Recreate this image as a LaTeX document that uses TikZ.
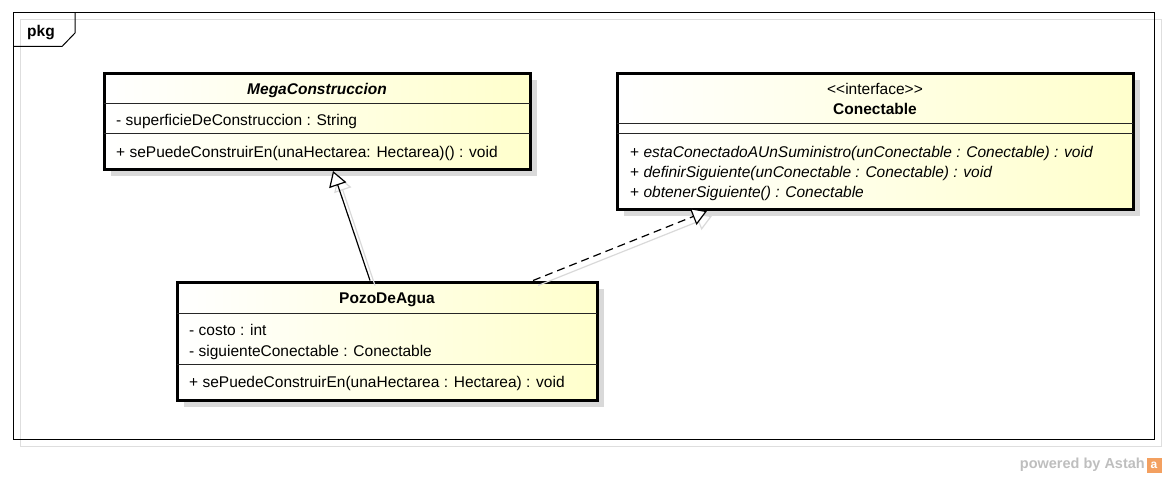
\documentclass[tikz,border=0pt]{standalone}
\usepackage{fontspec}
\setmainfont{Liberation Sans}
\usetikzlibrary{arrows.meta,shadows}
\definecolor{umlyellow}{RGB}{255,255,204}
\definecolor{shadegray}{RGB}{217,217,217}
\definecolor{framegray}{RGB}{222,222,222}
\definecolor{astahgray}{RGB}{190,190,190}
\definecolor{astahorange}{RGB}{243,160,96}

\begin{document}
\begin{tikzpicture}[x=1pt,y=-1pt,font=\fontsize{15.5}{20}\selectfont]
\tikzset{
classbox/.style={draw, line width=3pt, inner sep=0pt,
  left color=white, right color=umlyellow,
  drop shadow={shadow xshift=7pt, shadow yshift=-7pt, fill=shadegray, opacity=1}},
sep/.style={line width=1pt, black!85},
txt/.style={inner sep=0pt, anchor=west, text height=11pt, text depth=3pt},
ctxt/.style={inner sep=0pt, text height=11pt, text depth=3pt},
ttl/.style={ctxt, font=\fontsize{15.5}{20}\selectfont\bfseries},
gen/.style={line width=1.2pt, -{Triangle[length=15pt,width=18pt,fill=white]}},
real/.style={line width=1.2pt, dash pattern=on 8pt off 5pt,
  -{Triangle[length=15pt,width=18pt,fill=white]}},
shline/.style={line width=1.2pt, shadegray, -{Triangle[length=15pt,width=18pt,fill=white]}}
}
\useasboundingbox (0,0) rectangle (1166,478);

% package frame
\draw[framegray, line width=1pt] (20,20) rectangle (1161,446);
\draw[line width=1pt] (13,13) rectangle (1154,439);
\draw[line width=1pt] (75,13) -- (75,33) -- (62,46.5) -- (13,46.5);
\node[ttl] (pkg) at (41,33) {pkg};

% classes
\node[classbox, minimum width=426pt, minimum height=96pt] (mega) at (317,121.5) {};
\node[classbox, minimum width=516pt, minimum height=136pt] (conect) at (875,141.5) {};
\node[classbox, minimum width=420pt, minimum height=118pt] (pozo) at (387,341) {};

% MegaConstruccion
\node[ttl] (megaT) at (317,91) {\itshape MegaConstruccion};
\draw[sep] (104,104) -- (530,104);
\node[txt] (megaA) at (116,122) {- superficieDeConstruccion : String};
\draw[sep] (104,134) -- (530,134);
\node[txt] (megaO) at (116,154) {+ sePuedeConstruirEn(unaHectarea: Hectarea)() : void};

% Conectable
\node[ctxt] (conectS) at (875,91) {<\kern0pt<interface>\kern0pt>};
\node[ttl] (conectT) at (875,111) {Conectable};
\draw[sep] (617,124) -- (1133,124);
\draw[sep] (617,134) -- (1133,134);
\node[txt] (conectO1) at (630,154) {+ \textit{estaConectadoAUnSuministro(unConectable : Conectable) : void}};
\node[txt] (conectO2) at (630,174) {+ \textit{definirSiguiente(unConectable : Conectable) : void}};
\node[txt] (conectO3) at (630,194) {+ \textit{obtenerSiguiente() : Conectable}};

% PozoDeAgua
\node[ttl] (pozoT) at (387,299) {PozoDeAgua};
\draw[sep] (177,313.5) -- (597,313.5);
\node[txt] (pozoA1) at (189,331) {- costo : int};
\node[txt] (pozoA2) at (189,352) {- siguienteConectable : Conectable};
\draw[sep] (177,364) -- (597,364);
\node[txt] (pozoO) at (189,383) {+ sePuedeConstruirEn(unaHectarea : Hectarea) : void};

% connectors
\draw[shline] ([shift={(-12,5)}]pozo.north) -- ([shift={(21,5)}]mega.south);
\draw[shline] ([shift={(151,5)}]pozo.north) -- ([shift={(-163,5)}]conect.south);
\draw[gen] ([xshift=-17pt]pozo.north) -- ([xshift=16pt]mega.south);
\draw[real] ([xshift=146pt]pozo.north) -- ([xshift=-168pt]conect.south);

% footer
\node[inner sep=0pt, anchor=east, text=astahgray, font=\fontsize{14.5}{16}\selectfont\bfseries] (powered) at (1145,465) {powered by Astah};
\node[fill=astahorange, minimum size=15pt, inner sep=0pt, text=white, font=\fontsize{12}{12}\selectfont\bfseries] (logo) at (1154,465) {a};
\end{tikzpicture}
\end{document}
